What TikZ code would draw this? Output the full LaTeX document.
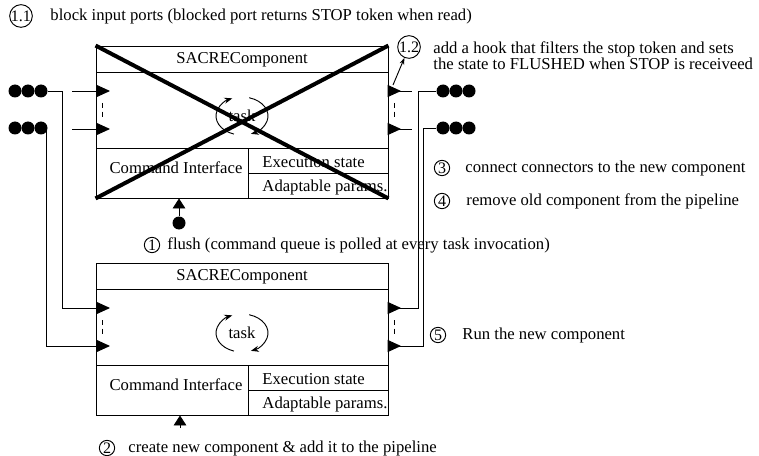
\documentclass[tikz,border=0pt]{standalone}
\usepackage{fontspec}
\setmainfont{Liberation Serif}
\usetikzlibrary{arrows.meta}

\begin{document}
\begin{tikzpicture}[x=0.75pt, y=-0.75pt, line width=0.7pt,
    font=\fontsize{12.5}{12}\selectfont,
    comp/.style={draw, rectangle, inner sep=0pt, minimum width=219pt, minimum height=114pt},
    num/.style={draw, circle, inner sep=0pt, minimum size=11.5pt, font=\fontsize{12}{12}\selectfont},
    txt/.style={anchor=west, inner sep=0pt},
    dot/.style={circle, fill, inner sep=0pt, minimum size=9.75pt},
    port/.style={-{Triangle[length=10pt, width=9pt]}},
    cmdarrow/.style={-{Triangle[length=7.5pt, width=9.5pt]}},
    taskloop/.style={-{Stealth[length=6pt, width=4.5pt]}},
    portgap/.style={dashed, dash pattern=on 4pt off 2.5pt},
    cross/.style={line width=3pt}]
  \useasboundingbox (0,0) rectangle (759,456);

  % Components (old on top, new below)
  \foreach \nm/\ty in {old/46, new/263} {
    \node[comp] (\nm) at (242,\ty+76) {};
    \draw (96,\ty+26) -- (388,\ty+26);
    \draw (96,\ty+102) -- (388,\ty+102);
    \draw (248,\ty+102) -- (248,\ty+152);
    \draw (248,\ty+127) -- (388,\ty+127);
    \node (\nm-title) at (242,\ty+14) {SACREComponent};
    \node (\nm-cmd) at (176,\ty+122) {Command Interface};
    \node[txt] (\nm-exec) at (262,\ty+116) {Execution state};
    \node[txt] (\nm-par) at (262,\ty+141) {Adaptable params.};
    % task loop
    \node (\nm-task) at (242,\ty+70) {task};
    \draw[taskloop] ([shift={(108:26 and 19)}]\nm-task.center)
      arc[start angle=108, end angle=248, x radius=26, y radius=19];
    \draw[taskloop] ([shift={(286:26 and 19)}]\nm-task.center)
      arc[start angle=286, end angle=430, x radius=26, y radius=19];
    % ports
    \coordinate (\nm-in1) at (110,\ty+45);
    \coordinate (\nm-in2) at (110,\ty+83);
    \coordinate (\nm-out1) at (388,\ty+45);
    \coordinate (\nm-out2) at (388,\ty+83);
    \draw[port] (\nm-out1) -- ++(13,0);
    \draw[port] (\nm-out2) -- ++(13,0);
    \draw[portgap] (102,\ty+57) -- (102,\ty+73);
    \draw[portgap] (394,\ty+57) -- (394,\ty+73);
  }

  % Old component: crossed out
  \draw[cross] (old.north west) -- (old.south east);
  \draw[cross] (old.south west) -- (old.north east);
  \draw[port] (old-in1) ++(-38,0) -- (old-in1);
  \draw[port] (old-in2) ++(-38,0) -- (old-in2);
  \draw (old-out1) -- ++(24,0);
  \draw (old-out2) -- ++(24,0);

  % Connectors (queues)
  \foreach \i/\x in {1/15, 2/28, 3/41} {
    \node[dot] (la\i) at (\x,91) {};
    \node[dot] (lb\i) at (\x,128) {};
  }
  \foreach \i/\x in {1/443, 2/456, 3/469} {
    \node[dot] (ra\i) at (\x,91) {};
    \node[dot] (rb\i) at (\x,128) {};
  }
  \draw[port] (la3.east) -- ++(14.5,0) |- (new-in1);
  \draw[port] ([xshift=3.75pt]lb3.center) |- (new-in2);
  \draw (new-out1) -- ++(30,0) |- (ra1.west);
  \draw (new-out2) -- ++(35,0) |- (rb1.west);

  % Commands
  \node[dot] (flush) at (179,223) {};
  \draw[cmdarrow] (flush) -- (flush |- old.south);
  \coordinate (create) at (180,428);
  \draw[cmdarrow] (create) -- (create |- new.south);

  % Steps
  \node[num] (n11) at (21,16) {1.1};
  \node[txt] (t11) at (50,16) {block input ports (blocked port returns STOP token when read)};
  \node[num] (n12) at (409,47) {1.2};
  \node[txt, align=left] (t12) at (433,56) {add a hook that filters the stop token and sets\\the state to FLUSHED when STOP is receiveed};
  \coordinate (hook) at (393,85);
  \draw[-{Stealth[length=5pt, width=3.5pt]}] (hook) -- (n12);
  \node[num] (n3) at (442,168) {3};
  \node[txt] (t3) at (465,168) {connect connectors to the new component};
  \node[num] (n4) at (442,201) {4};
  \node[txt] (t4) at (466,201) {remove old component from the pipeline};
  \node[num] (n1) at (152,245) {1};
  \node[txt] (t1) at (167,245) {flush (command queue is polled at every task invocation)};
  \node[num] (n2) at (107,448) {2};
  \node[txt] (t2) at (128,448) {create new component \& add it to the pipeline};
  \node[num] (n5) at (438,335) {5};
  \node[txt] (t5) at (462,335) {Run the new component};
\end{tikzpicture}
\end{document}
